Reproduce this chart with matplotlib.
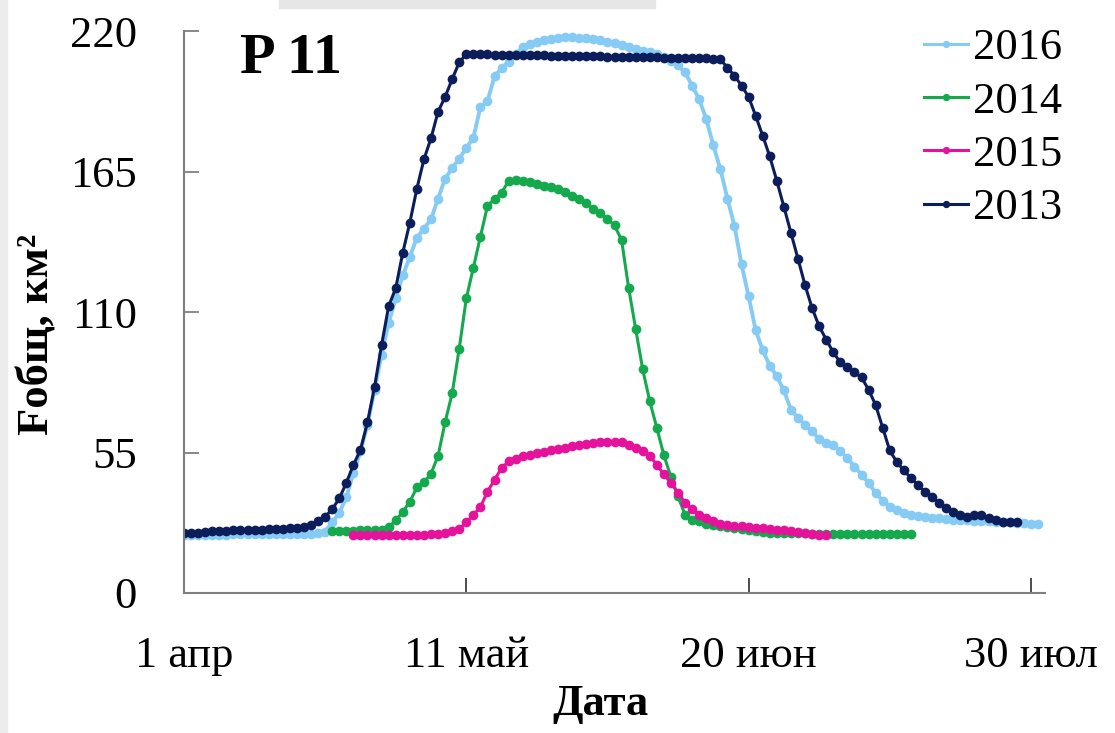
import matplotlib.pyplot as plt
import matplotlib.patches as mpatches
import numpy as np

# day index counted from 1 April
y2013 = [23.3, 23.3, 23.4, 24.0, 24.2, 24.3, 24.4, 24.5, 24.6, 24.6,
         24.7, 24.8, 24.9, 25.0, 25.1, 25.3, 25.5, 25.9, 26.7, 28.1,
         29.9, 32.8, 37.0, 43.1, 50.1, 56.0, 66.8, 80.7, 97.1, 112.3,
         119.3, 133.2, 145.0, 158.3, 169.8, 178.0, 188.4, 194.2, 201.2, 207.7,
         211.0, 211.0, 210.9, 210.9, 210.8, 210.8, 210.7, 210.7, 210.6, 210.6,
         210.5, 210.5, 210.4, 210.4, 210.3, 210.3, 210.2, 210.2, 210.1, 210.1,
         210.0, 210.0, 209.9, 209.9, 209.8, 209.8, 209.7, 209.7, 209.6, 209.6,
         209.5, 209.5, 209.4, 209.4, 209.3, 209.2, 208.9, 205.7, 202.5, 198.6,
         194.2, 186.8, 179.0, 170.9, 161.3, 151.2, 141.0, 130.8, 120.5, 111.5,
         104.4, 99.2, 94.2, 90.3, 88.4, 86.4, 84.4, 79.6, 73.6, 64.7,
         55.8, 51.3, 48.0, 45.0, 42.2, 39.7, 37.5, 35.3, 33.2, 31.8,
         30.6, 29.7, 30.6, 30.6, 29.3, 28.4, 27.6, 27.6, 27.6]
start2013 = 0

y2016 = [22.8, 22.8, 22.8, 22.9, 22.9, 22.9, 22.9, 23.0, 23.0, 23.0,
         23.0, 23.0, 23.1, 23.1, 23.1, 23.1, 23.2, 23.2, 23.2, 23.3,
         24.0, 27.6, 31.3, 37.5, 46.9, 55.4, 65.9, 79.6, 93.3, 105.8,
         115.4, 124.3, 131.6, 139.1, 142.6, 146.3, 154.4, 162.2, 166.3, 170.0,
         174.2, 178.2, 190.2, 192.5, 202.3, 205.4, 208.0, 211.0, 213.6, 214.9,
         215.8, 216.6, 216.9, 217.2, 217.5, 217.5, 217.3, 217.1, 216.8, 216.4,
         215.8, 215.2, 214.4, 213.6, 213.0, 212.3, 211.6, 211.0, 210.0, 208.4,
         206.5, 203.8, 198.6, 193.3, 185.5, 175.3, 165.9, 154.4, 143.7, 128.6,
         116.2, 102.9, 95.0, 89.0, 84.8, 79.3, 71.8, 68.5, 65.9, 63.3,
         60.3, 58.7, 57.8, 55.4, 52.8, 49.5, 46.3, 43.0, 39.3, 36.2,
         33.8, 32.5, 31.5, 30.6, 30.2, 29.8, 29.5, 29.2, 29.0, 28.7,
         28.5, 28.4, 28.2, 28.1, 28.0, 27.9, 27.8, 27.6, 27.5, 27.4,
         27.2, 27.1]
start2016 = 0

y2014 = [24.4, 24.4, 24.4, 24.4, 24.5, 24.5, 24.6, 24.7, 25.8,
         28.4, 31.8, 35.8, 41.3, 43.3, 46.7, 53.7, 66.9, 78.2, 95.7,
         115.3, 127.3, 139.5, 151.5, 154.3, 156.7, 161.3, 161.7, 161.1, 160.7,
         160.2, 159.5, 158.8, 158.0, 157.0, 155.5, 154.1, 152.6, 150.5, 148.7,
         146.4, 143.9, 138.2, 119.5, 103.4, 87.5, 75.0, 64.6, 53.9, 45.4,
         37.8, 30.6, 28.6, 28.0, 27.1, 26.6, 26.2, 25.8, 25.4, 25.0,
         24.6, 24.2, 23.8, 23.5, 23.4, 23.4, 23.3, 23.3, 23.3, 23.2,
         23.2, 23.2, 23.2, 23.1, 23.1, 23.1, 23.1, 23.1, 23.0, 23.0,
         23.0, 23.0, 23.0, 23.0]
start2014 = 21

y2015 = [22.7, 22.7, 22.7, 22.7, 22.7, 22.7, 22.7, 22.7, 22.8, 22.8,
         22.9, 23.0, 23.1, 23.4, 24.4, 25.2, 27.6, 30.6, 33.6, 39.7,
         44.3, 48.9, 51.5, 52.4, 53.5, 54.2, 54.8, 55.3, 55.8, 56.5,
         56.8, 57.4, 57.8, 58.3, 58.7, 59.0, 59.2, 59.3, 59.0, 58.1,
         56.8, 55.5, 53.5, 50.3, 46.4, 43.1, 39.2, 35.3, 32.7, 30.7,
         29.2, 28.1, 27.2, 26.8, 26.4, 26.1, 25.9, 25.6, 25.4, 25.1,
         24.8, 24.5, 24.2, 23.9, 23.5, 23.2, 22.9, 22.7]
start2015 = 24

x_ticks = [0, 40, 80, 120]
x_labels = ['1 апр', '11 май', '20 июн', '30 июл']
y_ticks = [0, 55, 110, 165, 220]

plt.rcParams['font.family'] = ['Liberation Serif', 'DejaVu Serif']

W, H = 1115, 733
fig = plt.figure(figsize=(W / 100, H / 100), dpi=100)
ax = fig.add_axes([184/W, 1 - 593/H, 861/W, 562/H])

series = [
    ('2016', start2016, y2016, '#86CBF4', 2.8),
    ('2014', start2014, y2014, '#14A94D', 2.2),
    ('2015', start2015, y2015, '#E5139B', 2.2),
    ('2013', start2013, y2013, '#0B1E5B', 2.2),
]
for name, s, vals, col, lw in series:
    d = np.arange(s, s + len(vals))
    ax.plot(d, vals, color=col, lw=lw, marker='o', markersize=7,
            markeredgewidth=0, label=name)

ax.set_xlim(0, 122)
ax.set_ylim(0, 220)
ax.set_xticks(x_ticks)
ax.set_xticklabels(x_labels)
ax.set_yticks(y_ticks)

for side in ['top', 'right']:
    ax.spines[side].set_visible(False)
for side in ['left', 'bottom']:
    ax.spines[side].set_color('#7f7f7f')
    ax.spines[side].set_linewidth(1.5)

ax.tick_params(axis='y', direction='in', length=11, width=1.3, color='#7f7f7f',
               labelsize=32, pad=34)
ax.tick_params(axis='x', direction='in', length=11, width=1.3, color='#3f3f3f',
               labelsize=32, pad=31)

fig.text(38/W, 1 - 334/H, 'Fобщ, км²', fontsize=32, fontweight='bold',
         rotation=90, ha='center', va='center')
fig.text(600/W, 1 - 704/H, 'Дата', fontsize=32, fontweight='bold',
         ha='center', va='center')

fig.text(240/W, 1 - 73/H, 'P 11', fontsize=42, fontweight='bold',
         va='baseline', ha='left')

leg = ax.legend(loc='upper right', bbox_to_anchor=(1062/W, 1 - 28/H),
                bbox_transform=fig.transFigure, frameon=False, fontsize=32,
                handlelength=1.0, handletextpad=0.1, labelspacing=0.3,
                borderpad=0, borderaxespad=0, markerscale=0.75)
for line in leg.get_lines():
    line.set_linewidth(2.2)

# faint grey marks at the edges of the source picture
fig.patches.append(mpatches.Rectangle((279/W, 1 - 8/H), 376/W, 8/H,
                                      transform=fig.transFigure,
                                      color='#e6e6e6', zorder=0))
fig.patches.append(mpatches.Rectangle((0, 0), 7/W, 1,
                                      transform=fig.transFigure,
                                      color='#ececec', zorder=0))

fig.savefig('out.png', dpi=100)
